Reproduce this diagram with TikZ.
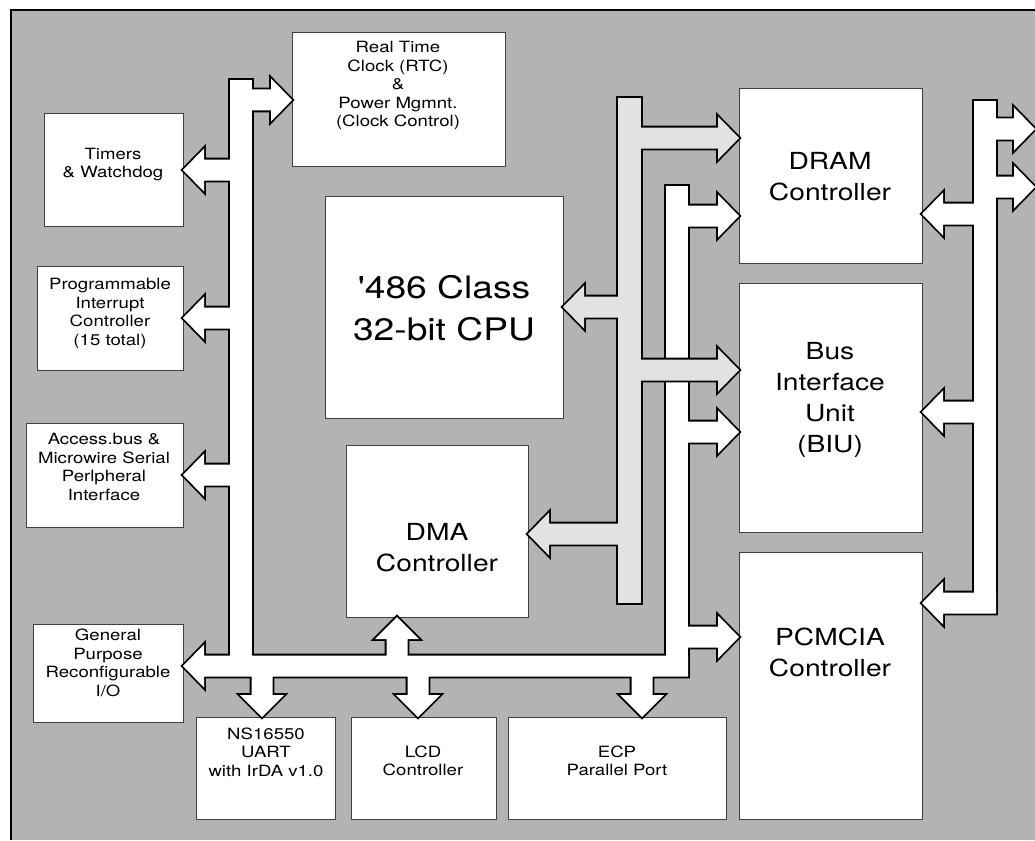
\documentclass[tikz,border=0pt]{standalone}
\usepackage{fontspec}
\setmainfont{TeX Gyre Heros}
\usepackage{graphicx}
\definecolor{bg}{HTML}{B3B3B3}
\definecolor{lbus}{HTML}{E2E2E2}
\definecolor{boxline}{HTML}{404040}
\newcommand\hs[1]{\scalebox{1.2}[1]{\begin{tabular}{@{}c@{}}#1\end{tabular}}}
\newcommand\rarr[3]{(#1,#3-10.5) -- (#2-21,#3-10.5) -- (#2-21,#3-21.5) -- (#2,#3) -- (#2-21,#3+21.5) -- (#2-21,#3+10.5) -- (#1,#3+10.5) -- cycle}
\newcommand\larr[3]{(#1,#3-10.5) -- (#2+21,#3-10.5) -- (#2+21,#3-21.5) -- (#2,#3) -- (#2+21,#3+21.5) -- (#2+21,#3+10.5) -- (#1,#3+10.5) -- cycle}
\newcommand\darr[3]{(#1-10.5,#2) -- (#1-10.5,#3-22) -- (#1-22,#3-22) -- (#1,#3) -- (#1+22,#3-22) -- (#1+10.5,#3-22) -- (#1+10.5,#2) -- cycle}
\newcommand\uarr[3]{(#1-10.5,#2) -- (#1-10.5,#3+22) -- (#1-22,#3+22) -- (#1,#3) -- (#1+22,#3+22) -- (#1+10.5,#3+22) -- (#1+10.5,#2) -- cycle}
\newcommand\rect[4]{(#1,#2) rectangle (#3,#4)}
\newcommand\busgroup[2]{%
  \foreach \p in {#2}{\draw[busline] \p;}%
  \foreach \p in {#2}{\fill[#1] \p;}}
\newcommand\bx[5]{\node[box, minimum width={#4-#2}, minimum height={#5-#3}] (#1) at (#2,#3) {};}
\begin{document}
\begin{tikzpicture}[x=1pt,y=-1pt,
  box/.style={draw=boxline, line width=1pt, fill=white, inner sep=0pt, outer sep=0pt, anchor=north west},
  busline/.style={draw=black, line width=3.6pt, line join=miter, miter limit=10},
  st/.style={font=\fontsize{15.5}{18.5}\selectfont, inner sep=0pt},
  lt/.style={font=\fontsize{23.5}{31}\selectfont, inner sep=0pt},
  ct/.style={font=\fontsize{31}{42}\selectfont, inner sep=0pt}]
\useasboundingbox (0,0) rectangle (1035,840);
% background frame
\fill[bg] (11,10) rectangle (1035,840);
\draw[line width=2pt] (11,840) -- (11,10) -- (1035,10);
% boxes
\bx{rtc}{292}{33}{505}{166}
\bx{timers}{44}{114}{183}{226}
\bx{pic}{37}{266}{183}{370}
\bx{acc}{26}{423}{183}{527}
\bx{gp}{33}{624}{183}{722}
\bx{cpu}{325}{196}{563}{418}
\bx{dma}{346}{445}{528}{617}
\bx{dram}{739}{89}{922}{263}
\bx{biu}{739}{283}{922}{532}
\bx{pcm}{739}{552}{922}{819}
\bx{ns}{196}{717}{335}{819}
\bx{lcd}{351}{717}{496}{819}
\bx{ecp}{508}{717}{726}{819}
% texts
\node[st] (rtc-t) at (398,86) {\hs{Real Time\\Clock (RTC)\\\&\\Power Mgmnt.\\(Clock Control)}};
\node[st] (timers-t) at (113,165) {\hs{Timers\\\& Watchdog}};
\node[st] (pic-t) at (110,314) {\hs{Programmable\\Interrupt\\Controller\\(15 total)}};
\node[st] (acc-t) at (104,469) {\hs{Access.bus \&\\Microwire Serial\\Perlpheral\\Interface}};
\node[st] (gp-t) at (108,665) {\hs{General\\Purpose\\Reconfigurable\\I/O}};
\node[st] (ns-t) at (266,754) {\hs{NS16550\\UART\\with IrDA v1.0}};
\node[st] (lcd-t) at (423,763) {\hs{LCD\\Controller}};
\node[st] (ecp-t) at (617,763) {\hs{ECP\\Parallel Port}};
\node[ct] (cpu-t) at (444,311) {\hs{\textquotesingle486 Class\\32-bit CPU}};
\node[lt] (dma-t) at (437,550) {\hs{DMA\\Controller}};
\node[lt] (dram-t) at (830,179) {\hs{DRAM\\Controller}};
\node[lt] (biu-t) at (830,400) {\hs{Bus\\Interface\\Unit\\(BIU)}};
\node[lt] (pcm-t) at (830,655) {\hs{PCMCIA\\Controller}};
% white peripheral bus
\busgroup{white}{\rect{230}{80}{252}{676},
  \rarr{240}{292}{100},
  \larr{240}{183}{170},
  \larr{240}{183}{318},
  \larr{240}{183}{475},
  \larr{688}{183}{666},
  \rect{666}{186}{688}{676},
  \rarr{677}{739}{216},
  \rarr{677}{739}{432},
  \rarr{677}{739}{637},
  \uarr{397}{666}{617},
  \darr{262}{666}{717},
  \darr{418}{666}{717},
  \darr{642}{666}{717}}
% light grey CPU bus
\busgroup{lbus}{\rect{618}{98}{641}{603},
  \rarr{630}{739}{138},
  \larr{630}{563}{307},
  \rarr{630}{739}{370},
  \larr{630}{528}{534}}
% right bus
\busgroup{white}{\rect{974}{101}{996}{613},
  \rarr{985}{1035}{129},
  \rarr{985}{1035}{187},
  \larr{985}{922}{214},
  \larr{985}{922}{412},
  \larr{996}{922}{603}}
\end{tikzpicture}
\end{document}
